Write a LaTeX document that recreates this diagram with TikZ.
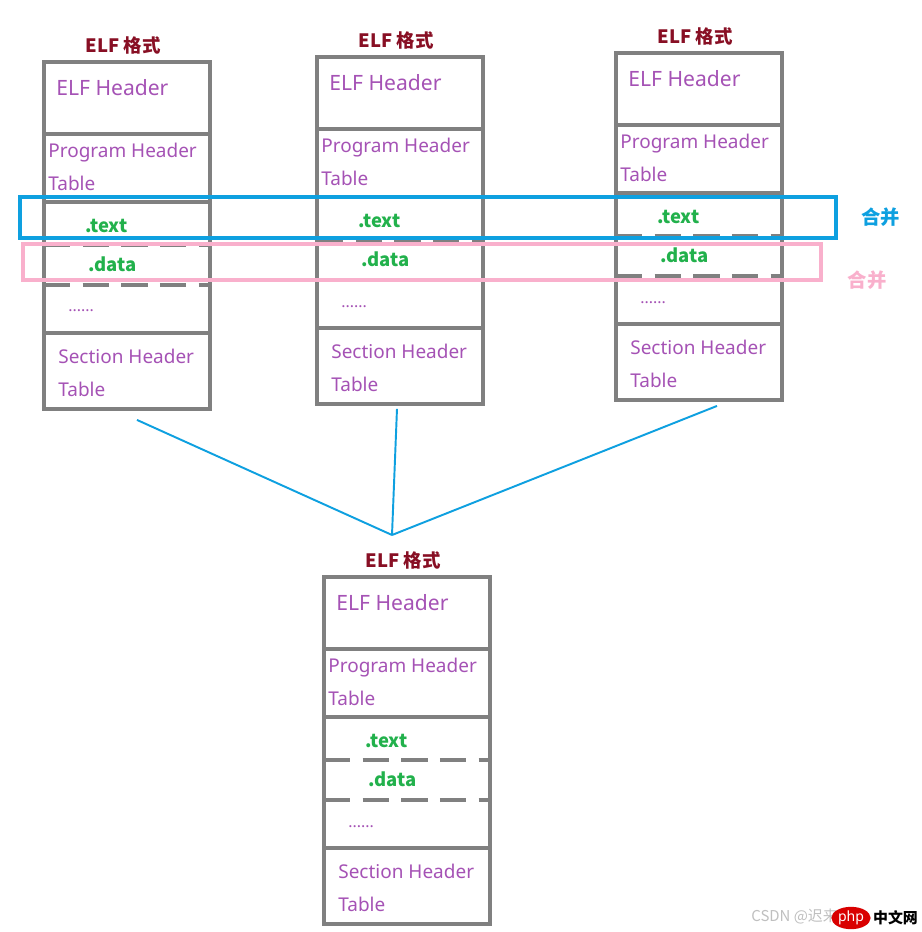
\documentclass[tikz,border=0pt]{standalone}
\usepackage{fontspec}
\setmainfont{Noto Sans}
\newfontfamily\cjk{Noto Sans CJK SC}
\usetikzlibrary{positioning, calc, shapes.geometric}
\definecolor{rahmen}{HTML}{808080}
\definecolor{lila}{HTML}{A552B5}
\definecolor{gruen}{HTML}{22B14C}
\definecolor{titelrot}{HTML}{880F24}
\definecolor{blau}{HTML}{0EA0E0}
\definecolor{rosa}{HTML}{F9B0CC}

\begin{document}
\begin{tikzpicture}[x=0.02cm, y=-0.02cm,
    feld/.style={minimum width=3.32cm, inner sep=0pt, outer sep=0pt},
    rand/.style={draw=rahmen, line width=2pt},
    strich/.style={rand, dash pattern=on 15pt off 7pt},
    lbl/.style={anchor=west, inner sep=0pt, text=lila, align=left,
                font=\fontsize{10.8}{18.7}\selectfont},
    kopf/.style={lbl, font=\fontsize{12}{14}\selectfont},
    sek/.style={anchor=west, inner sep=0pt, text=gruen,
                font=\cjk\bfseries\fontsize{10.5}{12}\selectfont},
    titel/.style={inner sep=0pt, text=titelrot, font=\cjk\bfseries\fontsize{10.5}{12}\selectfont},
    zusammen/.style={draw=blau, line width=1.1pt},
    mbox/.style={line width=2pt, inner sep=0pt, minimum height=0.8cm}
  ]
  \useasboundingbox[fill=white] (0,0) rectangle (921,932);

  % vier ELF-Spalten (oben drei, unten das Ergebnis)
  \foreach \c/\x/\y in {a/44/62, b/317/57, c/616/53, m/324/577} {
    \begin{scope}[shift={(\x,\y)}]
      \node[feld, anchor=north west, minimum height=1.44cm] (\c-hdr) at (0,0) {};
      \node[feld, minimum height=1.36cm, below=0pt of \c-hdr] (\c-pht) {};
      \node[feld, minimum height=0.86cm, below=0pt of \c-pht] (\c-txt) {};
      \node[feld, minimum height=0.80cm, below=0pt of \c-txt] (\c-dat) {};
      \node[feld, minimum height=0.96cm, below=0pt of \c-dat] (\c-dot) {};
      \node[feld, minimum height=1.52cm, below=0pt of \c-dot] (\c-sht) {};

      \draw[rand] (\c-hdr.north west) rectangle (\c-sht.south east);
      \draw[rand] (\c-hdr.south west) -- (\c-hdr.south east);
      \draw[rand] (\c-pht.south west) -- (\c-pht.south east);
      \draw[strich] (\c-txt.south west) -- (\c-txt.south east);
      \draw[strich] (\c-dat.south west) -- (\c-dat.south east);
      \draw[rand] (\c-dot.south west) -- (\c-dot.south east);

      \node[titel] (\c-tit) at (79,-17) {ELF 格式};
      \node[kopf] (\c-hdr-l) at (12,26) {ELF Header};
      \node[lbl] (\c-pht-l) at (4,105) {Program Header\\Table};
      \node[sek] (\c-txt-l) at (41,164) {.text};
      \node[sek] (\c-dat-l) at (44,202) {.data};
      \node[lbl, anchor=base west, font=\fontsize{9}{10}\selectfont] (\c-dot-l) at (24,250) {......};
      \node[lbl] (\c-sht-l) at (14,310.5) {Section Header\\Table};
    \end{scope}
  }

  % Zusammenfuehren
  \coordinate (ziel) at (392,535);
  \draw[zusammen] ($(a-sht.south)+(10,11)$) -- (ziel);
  \draw[zusammen] ($(b-sht.south)+(-3,5)$) -- (ziel);
  \draw[zusammen] ($(c-sht.south)+(18,6)$) -- (ziel);

  % Rahmen ueber die Abschnitte
  \node[mbox, draw=blau, minimum width=16.32cm, minimum height=0.82cm] (txtbox) at (428,217.5) {};
  \node[mbox, draw=rosa, minimum width=15.96cm, minimum height=0.72cm] (datbox) at (422,262) {};
  \node[right=0.46cm of txtbox, inner sep=0pt, text=blau, font=\cjk\bfseries\fontsize{11}{12}\selectfont] (txtmerge) {合并};
  \node[inner sep=0pt, text=rosa, font=\cjk\bfseries\fontsize{11}{12}\selectfont] (datmerge) at (867,280) {合并};

  % Wasserzeichen
  \node[inner sep=0pt, text=black!25, font=\cjk\fontsize{8.5}{10}\selectfont, anchor=west] (wm) at (751,916) {CSDN @迟来的};
  \node[ellipse, fill=red!85!black, inner sep=0.5pt, minimum width=0.62cm, minimum height=0.42cm,
        text=white, font=\fontsize{8}{9}\selectfont] (phplogo) at (851,918) {php};
  \node[inner sep=0pt, font=\cjk\bfseries\fontsize{8.5}{10}\selectfont, right=1pt of phplogo] (phpcn) {中文网};
\end{tikzpicture}
\end{document}
